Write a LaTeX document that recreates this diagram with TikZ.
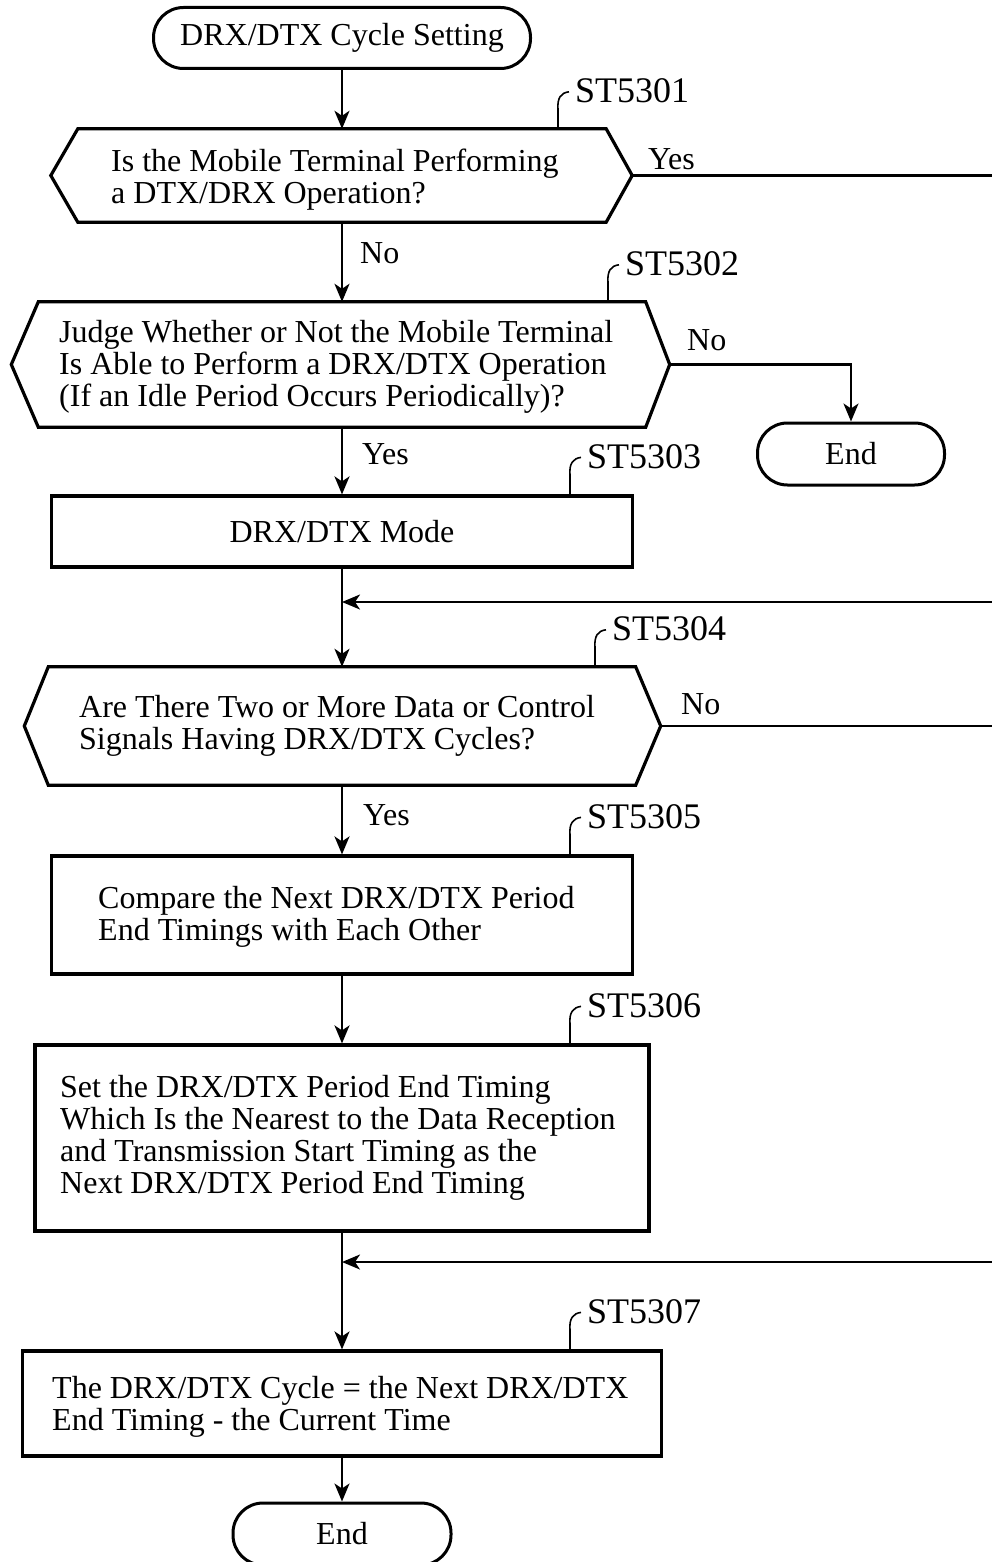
\documentclass[tikz,border=0pt]{standalone}
\usepackage{fontspec}
\setmainfont{Liberation Serif}
\usetikzlibrary{arrows.meta,calc}
\newcommand\stmark[4]{%
  \coordinate (#1a) at (#2.north -| #3,0);
  \node[stl, anchor=base west] (#1) at ($(#1a)+(17,-26)$) {#4};
  \draw[lead] (#1a) -- ++(0,-19) .. controls +(-1,-12) and +(-8,1) .. ($(#1a)+(11,-37)$);
}
\begin{document}
\begin{tikzpicture}[x=1pt,y=-1pt,
  termst/.style={draw, line width=3pt, rounded corners=30pt, inner sep=0pt, font=\fontsize{32}{32}\selectfont},
  boxst/.style={draw, line width=3.2pt, inner sep=0pt, font=\fontsize{32}{32}\selectfont},
  hexst/.style={inner sep=0pt},
  hexline/.style={line width=3.2pt},
  txt/.style={inner sep=0pt, align=left, font=\fontsize{32}{32}\selectfont},
  lbl/.style={inner sep=0pt, font=\fontsize{32}{32}\selectfont},
  stl/.style={inner sep=0pt, font=\fontsize{36}{36}\selectfont},
  conn/.style={line width=2.2pt},
  arr/.style={conn, -{Stealth[length=18pt,width=15pt,inset=5pt]}},
  lead/.style={line width=1.6pt}]
\fill[white] (0,0) rectangle (992,1562);
\useasboundingbox (0,0) rectangle (992,1562);
\coordinate (edge) at (1005,0);

% start
\node[termst, minimum width=377pt, minimum height=61pt] (start) at (342,38) {\raisebox{-2pt}{DRX/DTX Cycle Setting}};

% decision 1
\node[hexst, minimum width=528pt, minimum height=93pt] (d1) at (342,175.5) {};
\coordinate (d1l) at ($(d1.west)+(-27,0)$);
\coordinate (d1r) at ($(d1.east)+(26,0)$);
\draw[hexline] (d1.north west) -- (d1.north east) -- (d1r) -- (d1.south east) -- (d1.south west) -- (d1l) -- cycle;
\node[txt, anchor=west] (d1t) at (111,180) {Is the Mobile Terminal Performing\\a DTX/DRX Operation?};

% decision 2
\node[hexst, minimum width=607pt, minimum height=125pt] (d2) at (342,364.5) {};
\coordinate (d2l) at ($(d2.west)+(-27,0)$);
\coordinate (d2r) at ($(d2.east)+(24,0)$);
\draw[hexline] (d2.north west) -- (d2.north east) -- (d2r) -- (d2.south east) -- (d2.south west) -- (d2l) -- cycle;
\node[txt, anchor=west] (d2t) at (59,367) {Judge Whether or Not the Mobile Terminal\\Is Able to Perform a DRX/DTX Operation\\(If an Idle Period Occurs Periodically)?};

% end 1
\node[termst, minimum width=187pt, minimum height=62pt] (end1) at (851,454) {End};

% process 3
\node[boxst, minimum width=581pt, minimum height=71pt] (p3) at (342,531.5) {DRX/DTX Mode};

% decision 4
\node[hexst, minimum width=587pt, minimum height=118pt] (d4) at (342,726) {};
\coordinate (d4l) at ($(d4.west)+(-24,0)$);
\coordinate (d4r) at ($(d4.east)+(25,0)$);
\draw[hexline] (d4.north west) -- (d4.north east) -- (d4r) -- (d4.south east) -- (d4.south west) -- (d4l) -- cycle;
\node[txt, anchor=west] (d4t) at (79,726) {Are There Two or More Data or Control\\Signals Having DRX/DTX Cycles?};

% process 5
\node[boxst, minimum width=581pt, minimum height=118pt] (p5) at (342,915) {};
\node[txt, anchor=west] (p5t) at (98,917) {Compare the Next DRX/DTX Period\\End Timings with Each Other};

% process 6
\node[boxst, minimum width=614pt, minimum height=186pt] (p6) at (342,1138) {};
\node[txt, anchor=west] (p6t) at (60,1138) {Set the DRX/DTX Period End Timing\\Which Is the Nearest to the Data Reception\\and Transmission Start Timing as the\\Next DRX/DTX Period End Timing};

% process 7
\node[boxst, minimum width=639pt, minimum height=105pt] (p7) at (342,1403.5) {};
\node[txt, anchor=west] (p7t) at (52,1406.5) {The DRX/DTX Cycle = the Next DRX/DTX\\End Timing - the Current Time};

% end 2
\node[termst, minimum width=218pt, minimum height=62pt] (end2) at (342,1534) {End};

% connectors
\draw[arr] (start) -- (d1);
\draw[arr] (d1) -- (d2);
\draw[conn] (d1r) -- (d1r -| edge);
\draw[arr] (d2r) -| (end1);
\draw[arr] (d2) -- (p3);
\draw[arr] (p3) -- (d4);
\coordinate (j1) at (342,602);
\draw[arr] (j1 -| edge) -- (j1);
\draw[conn] (d4r) -- (d4r -| edge);
\draw[arr] (d4) -- (p5);
\draw[arr] (p5) -- (p6);
\draw[arr] (p6) -- (p7);
\coordinate (j2) at (342,1262);
\draw[arr] (j2 -| edge) -- (j2);
\draw[arr] (p7) -- (end2);

% branch labels
\node[lbl, anchor=base west] (y1) at (648,170) {Yes};
\node[lbl, anchor=base west] (n1) at (360,263) {No};
\node[lbl, anchor=base west] (n2) at (687,350) {No};
\node[lbl, anchor=base west] (y2) at (362,464) {Yes};
\node[lbl, anchor=base west] (n4) at (681,714) {No};
\node[lbl, anchor=base west] (y4) at (363,825) {Yes};

% step marks
\stmark{s1}{d1}{558}{ST5301}
\stmark{s2}{d2}{608}{ST5302}
\stmark{s3}{p3}{570}{ST5303}
\stmark{s4}{d4}{595}{ST5304}
\stmark{s5}{p5}{570}{ST5305}
\stmark{s6}{p6}{570}{ST5306}
\stmark{s7}{p7}{570}{ST5307}
\end{tikzpicture}
\end{document}
